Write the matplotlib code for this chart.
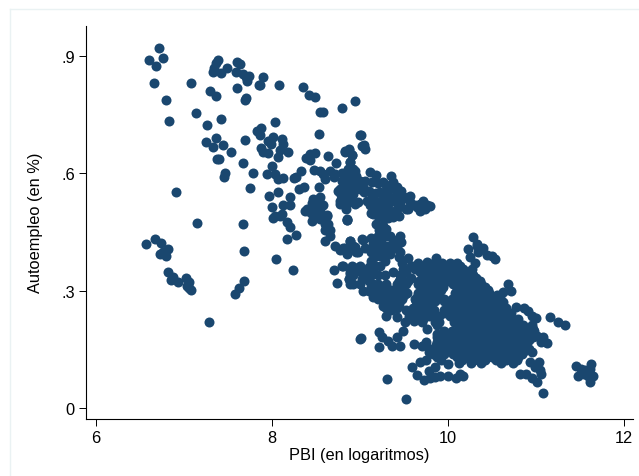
import numpy as np
import matplotlib
matplotlib.use('Agg')
import matplotlib.pyplot as plt

plt.rcParams['font.family'] = ['Liberation Sans', 'DejaVu Sans']

# (PBI en logaritmos, autoempleo), grouped by zone
zona_arriba = [
    (6.72, .921), (6.60, .891), (6.765, .894), (6.68, .875), (6.66, .832), (7.08, .831), (6.79, .787),
    (7.14, .755), (6.83, .733), (7.26, .723), (7.425, .738), (7.25, .681), (7.36, .690), (7.33, .668),
    (7.44, .673), (7.53, .654), (7.37, .636), (7.40, .636), (7.67, .627), (7.47, .601), (7.455, .590),
    (7.78, .601), (7.75, .563), (6.91, .552), (7.39, .890), (7.365, .882), (7.34, .869), (7.33, .860),
    (7.42, .857), (7.485, .870), (7.60, .886), (7.64, .880), (7.59, .860), (7.67, .853), (7.735, .850),
    (7.70, .846), (7.72, .837), (7.90, .846), (7.85, .826), (7.865, .826), (8.08, .826), (7.60, .818),
    (7.705, .794), (7.69, .789), (7.30, .810), (7.36, .798), (8.35, .821), (8.425, .801), (8.49, .796),
    (8.79, .766), (8.94, .786), (8.54, .756), (8.575, .757), (8.53, .700), (8.03, .732), (7.875, .717),
    (7.83, .708), (7.86, .698), (7.69, .686), (8.015, .692), (7.96, .683), (7.985, .674), (8.11, .688),
    (8.13, .674), (8.09, .661), (7.88, .666), (7.90, .656), (7.96, .651), (8.065, .643), (8.18, .654),
    (8.005, .618), (7.94, .598), (8.035, .598), (8.07, .586), (8.12, .587), (8.33, .607), (8.27, .590),
    (8.25, .587), (8.36, .566), (8.31, .560), (8.53, .566), (7.97, .541), (8.065, .552), (8.20, .540),
    (8.005, .515), (8.12, .520), (8.20, .520), (8.03, .492), (8.11, .496),
    (8.49, .652), (8.43, .650), (8.39, .639), (8.43, .635), (8.64, .644), (8.48, .609), (8.54, .607),
    (8.585, .598), (8.66, .607), (8.73, .626), (8.72, .598), (8.83, .656), (8.88, .661), (8.905, .647),
    (8.89, .628), (8.925, .611), (9.0, .697), (9.02, .671), (8.75, .556), (8.83, .564), (8.885, .547),
    (8.94, .577), (8.77, .522), (8.85, .530), (8.94, .522), (8.85, .483), (8.47, .535), (8.55, .539),
    (8.49, .518), (8.375, .505), (8.43, .502), (8.51, .500), (8.62, .494), (8.45, .525), (8.58, .490),
    (8.50, .515), (8.55, .510), (8.58, .520), (8.53, .530), (8.60, .470), (8.62, .460), (8.66, .455),
    (8.40, .510), (8.47, .490), (8.80, .600), (8.85, .590), (8.92, .590), (8.80, .580), (8.78, .545),
    (8.82, .530), (8.90, .530), (8.86, .610), (8.70, .590), (8.60, .585),
]
zona_izquierda = [
    (7.15, .473), (7.67, .470), (8.01, .485), (8.09, .492), (8.17, .475), (8.21, .462), (8.27, .442),
    (8.17, .432), (8.46, .477), (8.55, .483), (8.62, .492), (8.64, .471), (8.60, .454), (8.66, .439),
    (8.60, .428), (8.85, .482), (8.72, .415), (8.77, .405), (8.83, .408), (8.85, .396), (8.89, .426),
    (8.94, .411), (8.98, .398), (9.02, .432), (6.565, .419), (6.67, .431), (6.74, .422), (6.82, .407),
    (6.73, .394), (6.765, .400), (6.795, .388), (6.82, .347), (6.88, .336), (6.85, .327), (6.935, .323),
    (7.02, .332), (7.06, .323), (7.03, .313), (7.06, .306), (7.08, .302), (7.685, .402), (8.04, .382),
    (8.24, .352), (7.68, .326), (7.63, .307), (7.575, .292), (7.28, .219), (8.71, .352), (8.81, .362),
    (8.74, .319), (8.89, .347), (8.925, .360), (8.87, .330), (8.89, .317), (8.96, .355), (9.0, .317),
    (9.0, .177),
]
zona_media = [
    (9.01, .697), (9.04, .673), (9.06, .662), (8.83, .658), (8.88, .662), (8.905, .648), (8.885, .628),
    (8.94, .607), (8.96, .594), (9.115, .603), (9.18, .596), (9.14, .577), (9.265, .579), (9.35, .594),
    (9.38, .577), (9.06, .581), (9.0, .581), (8.85, .569), (8.77, .560), (8.83, .552), (8.925, .547),
    (9.04, .552), (9.23, .552), (9.34, .560), (9.47, .556), (9.57, .543), (9.42, .547), (9.57, .526),
    (9.55, .509), (9.72, .530), (9.68, .522), (9.79, .516), (9.74, .509), (9.68, .505), (9.625, .518),
    (9.455, .530), (9.15, .535), (9.21, .526), (9.265, .535), (9.32, .522), (9.11, .518), (9.19, .509),
    (9.27, .509), (9.34, .505), (9.42, .509), (9.44, .492), (9.38, .488), (9.15, .496), (8.77, .530),
    (8.87, .526), (8.98, .526), (8.85, .482), (9.18, .471), (9.27, .483), (9.265, .466), (9.30, .458),
    (9.13, .436), (9.19, .432), (9.265, .441), (9.34, .441), (9.455, .441), (9.40, .424), (9.47, .424),
    (9.15, .420), (9.25, .420), (9.32, .415), (8.885, .428), (9.03, .430), (8.925, .415), (8.96, .400),
    (9.06, .408), (8.81, .408), (8.85, .394), (9.13, .377), (9.23, .390), (9.34, .394), (9.44, .385),
    (9.55, .383), (9.59, .364), (8.80, .364), (8.905, .364), (9.0, .364), (8.885, .343), (9.06, .347),
    (9.15, .351), (9.23, .364), (9.38, .347), (9.49, .355), (9.68, .347), (9.76, .373), (9.865, .383),
    (9.95, .364), (10.04, .360), (10.12, .355), (10.23, .347), (10.28, .438), (10.23, .407), (10.33, .420),
    (10.40, .408), (10.345, .398), (10.44, .391), (10.25, .385), (10.31, .372),
    (9.08, .530), (9.12, .550), (9.18, .550), (9.28, .550), (9.33, .540), (9.38, .530), (9.45, .520),
    (9.50, .540), (9.52, .510), (9.25, .515), (9.30, .495), (9.20, .490), (9.25, .490), (9.32, .485),
    (9.36, .500), (9.10, .555), (9.20, .575), (9.30, .570), (9.42, .565), (9.48, .535), (9.65, .515),
    (9.70, .515), (9.76, .520), (9.12, .500), (9.05, .560), (9.00, .560), (8.95, .560), (8.90, .570),
    (8.84, .510), (9.20, .440), (9.22, .455), (9.30, .440), (9.37, .430), (9.20, .410), (9.28, .400),
    (9.35, .405), (9.42, .410), (9.45, .400), (9.18, .390), (9.28, .375), (9.48, .370), (9.16, .365),
    (9.27, .455), (9.12, .400), (9.10, .360), (8.98, .350), (8.92, .340), (9.20, .340), (9.02, .330),
    (9.10, .330), (9.20, .300), (9.10, .300), (9.15, .285),
]
zona_abajo = [
    (9.01, .178), (9.31, .073), (9.52, .022), (9.215, .195), (9.25, .181), (9.215, .155), (9.32, .172),
    (9.42, .181), (9.45, .158), (9.49, .198), (9.36, .158), (9.61, .164), (9.70, .159), (9.78, .142),
    (9.595, .106), (9.68, .117), (9.65, .085), (9.73, .072), (9.78, .095), (9.85, .104), (9.80, .078),
    (9.91, .083), (10.0, .113), (10.0, .083), (10.09, .078), (10.17, .081), (10.14, .087), (9.85, .079),
    (8.87, .330), (8.96, .356), (9.04, .347), (9.03, .298), (8.92, .318), (9.21, .279), (9.265, .262),
    (9.30, .236), (9.42, .232), (9.51, .219), (9.61, .223), (9.70, .219), (9.76, .202), (9.87, .189),
    (9.95, .194), (9.85, .219),
]
zona_derecha = [
    (10.33, .415), (10.50, .390), (10.53, .381), (10.27, .356), (10.68, .317), (10.72, .300), (10.63, .296),
    (10.59, .283), (10.63, .270), (10.77, .259), (10.86, .255), (10.91, .249), (10.95, .236), (10.996, .230),
    (11.16, .234), (11.25, .219), (11.33, .211), (10.97, .202), (11.01, .185), (11.08, .181), (11.13, .166),
    (11.06, .168), (11.03, .117), (11.05, .096), (10.99, .104), (10.82, .086), (10.89, .087), (10.95, .078),
    (11.01, .067), (11.06, .087), (10.93, .117), (10.95, .142), (10.875, .159), (11.08, .039), (11.46, .108),
    (11.63, .112), (11.48, .083), (11.56, .096), (11.61, .100), (11.65, .083), (11.61, .066), (11.54, .087),
    (11.59, .083), (11.51, .100),
]
# dense cloud, written as rows: (autoempleo, [PBI values])
nube_filas = [
    (.372, [9.66, 9.84, 9.93, 10.02, 10.10]),
    (.363, [9.58, 9.72, 9.81, 9.90, 9.97, 10.06, 10.14]),
    (.355, [9.63, 9.78, 9.87, 10.0, 10.07, 10.17]),
    (.347, [9.52, 9.70, 9.83, 9.93, 10.04, 10.12, 10.20, 10.25]),
    (.340, [9.12, 9.28, 9.46, 9.72, 9.82, 9.92, 10.03, 10.13, 10.21, 10.28]),
    (.332, [9.47, 9.58, 9.72, 9.84, 9.95, 10.05, 10.13, 10.24, 10.32]),
    (.325, [9.10, 9.44, 9.55, 9.67, 9.79, 9.88, 10.0, 10.08, 10.18, 10.30, 10.36]),
    (.317, [9.15, 9.20, 9.30, 9.42, 9.52, 9.66, 9.78, 9.90, 10.06, 10.16, 10.27, 10.38]),
    (.310, [9.13, 9.25, 9.48, 9.72, 9.84, 9.94, 10.12, 10.22, 10.32, 10.42]),
    (.302, [9.22, 9.35, 9.46, 9.70, 9.80, 9.92, 10.10, 10.20, 10.30, 10.40, 10.46]),
    (.295, [9.18, 9.30, 9.42, 9.53, 9.66, 9.77, 9.88, 10.08, 10.17, 10.27, 10.38, 10.47]),
    (.288, [9.27, 9.38, 9.50, 9.66, 9.78, 9.90, 10.10, 10.20, 10.30, 10.38, 10.48, 10.56]),
    (.280, [9.35, 9.48, 9.62, 9.73, 9.85, 9.95, 10.05, 10.14, 10.23, 10.33, 10.43, 10.52]),
    (.273, [9.30, 9.40, 9.64, 9.75, 9.85, 9.96, 10.05, 10.16, 10.26, 10.36, 10.46, 10.55, 10.60]),
    (.265, [9.33, 9.44, 9.68, 9.80, 10.0, 10.10, 10.20, 10.30, 10.40, 10.50, 10.58]),
    (.257, [9.30, 9.42, 9.60, 9.70, 9.80, 10.0, 10.10, 10.20, 10.30, 10.40, 10.50, 10.60, 10.66]),
    (.250, [9.35, 9.52, 9.62, 9.74, 9.84, 9.96, 10.06, 10.16, 10.26, 10.36, 10.46, 10.55, 10.64]),
    (.242, [9.62, 9.72, 9.82, 9.96, 10.08, 10.18, 10.28, 10.38, 10.48, 10.58, 10.68, 10.72]),
    (.235, [9.56, 9.67, 9.78, 9.90, 10.02, 10.12, 10.22, 10.32, 10.42, 10.52, 10.62, 10.70]),
    (.228, [9.72, 9.85, 10.12, 10.22, 10.32, 10.42, 10.52, 10.62, 10.72, 10.80]),
    (.220, [9.90, 10.07, 10.18, 10.28, 10.38, 10.48, 10.58, 10.68, 10.78]),
    (.212, [9.88, 10.15, 10.25, 10.35, 10.45, 10.55, 10.65, 10.75, 10.85, 10.95]),
    (.205, [10.12, 10.22, 10.34, 10.44, 10.54, 10.64, 10.74, 10.84, 10.92]),
    (.198, [9.95, 10.05, 10.12, 10.22, 10.32, 10.42, 10.52, 10.62, 10.72, 10.82, 10.90, 10.98]),
    (.190, [10.06, 10.16, 10.26, 10.38, 10.48, 10.58, 10.68, 10.78, 10.88, 10.95]),
    (.182, [9.88, 10.0, 10.10, 10.20, 10.30, 10.40, 10.50, 10.60, 10.70, 10.80, 10.90, 10.97]),
    (.175, [9.92, 10.02, 10.12, 10.22, 10.32, 10.42, 10.52, 10.62, 10.72, 10.82, 10.92]),
    (.168, [9.75, 9.88, 10.0, 10.10, 10.20, 10.30, 10.40, 10.50, 10.60, 10.70, 10.80, 10.90]),
    (.160, [9.86, 9.97, 10.08, 10.18, 10.28, 10.38, 10.48, 10.58, 10.68, 10.78, 10.88]),
    (.152, [9.80, 9.92, 10.02, 10.12, 10.22, 10.32, 10.42, 10.52, 10.62, 10.72, 10.82, 10.92]),
    (.145, [9.90, 10.02, 10.14, 10.24, 10.34, 10.44, 10.54, 10.64, 10.74, 10.86]),
    (.138, [9.83, 9.96, 10.06, 10.16, 10.26, 10.36, 10.46, 10.56, 10.66, 10.76, 10.84]),
    (.130, [9.88, 10.10, 10.20, 10.30, 10.40, 10.50, 10.60, 10.70, 10.80]),
    (.122, [9.75, 9.92, 10.16, 10.30, 10.42, 10.54, 10.66, 10.78]),
    (.115, [10.12, 10.26, 10.38, 10.60, 10.74]),
]

x_puntos = []
y_puntos = []
for zona in [zona_arriba, zona_izquierda, zona_media, zona_abajo, zona_derecha]:
    for px, py in zona:
        x_puntos.append(px)
        y_puntos.append(py)
for fila_y, fila_x in nube_filas:
    for px in fila_x:
        x_puntos.append(px)
        y_puntos.append(fila_y)

x_ticks = [6, 8, 10, 12]
y_ticks = [0, .3, .6, .9]
y_tick_labels = ['0', '.3', '.6', '.9']

fig = plt.figure(figsize=(6.39, 4.77), dpi=100)
W, H = 639.0, 477.0

# faint outer frame of the graph region
fig.add_artist(plt.Line2D([10 / W, 10 / W], [0, 1 - 10 / H], color='#eaf2f3', lw=1))
fig.add_artist(plt.Line2D([10 / W, 1], [1 - 10 / H, 1 - 10 / H], color='#eaf2f3', lw=1))

ax = fig.add_axes([86 / W, 1 - 419.5 / H, (633 - 86) / W, (419.5 - 27) / H])
ax.scatter(x_puntos, y_puntos, s=52, color='#1a476f', linewidths=0, zorder=3)

ax.set_xlim(6 - 10 / 88, 6 + (633 - 96) / 88)
ax.set_ylim(-10.5 / 391, (409 - 27) / 391)
ax.spines['top'].set_visible(False)
ax.spines['right'].set_visible(False)
ax.spines['left'].set_linewidth(0.8)
ax.spines['bottom'].set_linewidth(0.8)
ax.set_xticks(x_ticks)
ax.set_yticks(y_ticks)
ax.set_yticklabels(y_tick_labels)
ax.tick_params(axis='both', labelsize=11.8, length=5, width=0.7, pad=3)
ax.set_xlabel('PBI (en logaritmos)', fontsize=11.8, labelpad=2)
ax.set_ylabel('Autoempleo (en %)', fontsize=11.8, labelpad=13)

fig.savefig('out.png', dpi=100)
